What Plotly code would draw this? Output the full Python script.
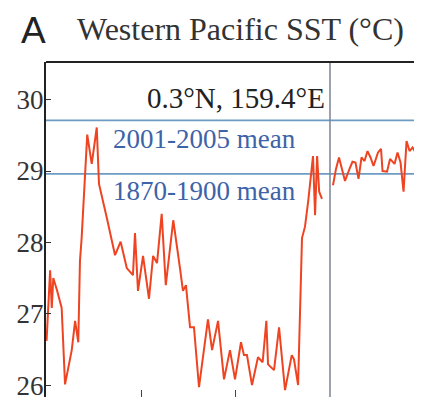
import plotly.graph_objects as go

# Paleo record (ODP 806, thousands of years before present)
paleo_kyr = [151.0, 149.1, 148.2, 147.4, 145.4, 142.9, 141.1, 137.5, 135.7, 134.0,
             133.1, 132.2, 129.2, 126.8, 124.1, 122.9, 118.6, 114.3, 111.3, 108.0,
             104.7, 103.6, 102.0, 99.3, 96.1, 93.9, 91.8, 89.3, 87.1, 83.1,
             79.5, 77.9, 76.3, 74.1, 72.0, 69.3, 64.5, 62.3, 59.1, 55.9,
             52.7, 50.0, 46.8, 45.2, 43.6, 40.9, 37.7, 35.2, 33.2, 32.3,
             29.1, 26.4, 23.2, 19.6, 18.4, 16.2, 14.1, 12.5, 10.8, 8.2,
             7.1, 6.0, 4.9, 3.4]
paleo_sst = [26.62, 27.61, 27.08, 27.50, 27.33, 27.08, 26.01, 26.49, 26.90, 26.60,
             27.74, 28.06, 29.51, 29.10, 29.61, 28.82, 28.33, 27.82, 28.01, 27.64,
             27.54, 28.13, 27.32, 27.81, 27.21, 27.81, 27.71, 28.40, 27.40, 28.31,
             27.64, 27.32, 27.40, 26.81, 26.81, 25.97, 26.92, 26.49, 26.90, 26.08,
             26.49, 26.08, 26.60, 26.42, 26.42, 26.00, 26.39, 26.32, 26.90, 26.29,
             26.21, 26.81, 25.93, 26.42, 26.36, 26.00, 28.06, 28.22, 28.57, 29.21,
             28.38, 29.21, 28.71, 28.61]

# Modern instrumental record (years)
modern_year = [1870, 1872, 1874, 1877, 1878, 1881, 1883, 1885, 1887, 1889,
               1891, 1893, 1895, 1897, 1900, 1902, 1903, 1906, 1908, 1911,
               1913, 1915, 1917, 1918, 1919, 1921, 1923, 1925, 1927, 1929]
modern_sst = [28.80, 29.03, 29.19, 28.93, 28.86, 29.03, 29.13, 29.12, 28.89, 29.19,
              29.14, 29.28, 29.19, 29.07, 29.26, 29.31, 29.00, 28.99, 29.17, 29.10,
              29.26, 29.12, 28.71, 29.07, 29.42, 29.28, 29.33, 29.26, 29.17, 29.21]

mean_2001_2005 = 29.71
mean_1870_1900 = 28.96
y_ticks = [26, 27, 28, 29, 30]
paleo_ticks = [100, 50]
y_range = [25.833, 30.528]
paleo_range = [151.3, -0.9]
modern_range = [1868, 1929.3]
split = 0.7553

red = "#ee4422"
serif = "Liberation Serif, Times New Roman, serif"

fig = go.Figure()
fig.add_trace(go.Scatter(x=paleo_kyr, y=paleo_sst, mode="lines",
                         line=dict(color=red, width=2), xaxis="x", yaxis="y",
                         showlegend=False, hoverinfo="skip"))
fig.add_trace(go.Scatter(x=modern_year, y=modern_sst, mode="lines",
                         line=dict(color=red, width=2), xaxis="x2", yaxis="y2",
                         showlegend=False, hoverinfo="skip"))

for val in (mean_2001_2005, mean_1870_1900):
    fig.add_shape(type="line", xref="paper", yref="y", x0=0, x1=1, y0=val, y1=val,
                  line=dict(color="#6d9bc3", width=1.6), layer="below")
fig.add_shape(type="line", xref="paper", yref="paper", x0=split, x1=split, y0=0, y1=1,
              line=dict(color="#7c8594", width=1.5))
fig.add_shape(type="line", xref="paper", yref="paper", x0=0, x1=1, y0=1, y1=1,
              line=dict(color="#222222", width=2))

# page body adds an 8px offset; the figure is sized so the plot lands in place
fig.update_layout(
    width=414, height=392,
    margin=dict(l=38, r=0, t=54, b=0),
    paper_bgcolor="white", plot_bgcolor="white",
    showlegend=False,
    xaxis=dict(domain=[0, split], range=paleo_range, tickvals=paleo_ticks,
               ticks="inside", ticklen=7, tickwidth=1, tickcolor="#444",
               showticklabels=False, showline=False, showgrid=False,
               zeroline=False, anchor="y"),
    xaxis2=dict(domain=[split, 1], range=modern_range, ticks="",
                showticklabels=False, showline=False, showgrid=False,
                zeroline=False, anchor="y2"),
    yaxis=dict(range=y_range, tickvals=y_ticks, ticks="inside", ticklen=5,
               tickcolor="#333", showline=True, linewidth=2, linecolor="#222",
               showgrid=False, zeroline=False, anchor="x",
               ticklabeloverflow="allow", ticklabelstandoff=-5,
               tickfont=dict(family=serif, size=27, color="#333")),
    yaxis2=dict(range=y_range, tickvals=y_ticks, ticks="inside", ticklen=4,
                tickcolor="#888", side="right", showline=False,
                showticklabels=False, showgrid=False, zeroline=False, anchor="x2"),
)

def px_x(p):
    return (p - 46) / 376.0

def px_y(p):
    return (400 - p) / 338.0

fig.add_annotation(text="A", xref="paper", yref="paper", x=px_x(33.5), y=px_y(30),
                   showarrow=False, xanchor="center", yanchor="middle",
                   font=dict(family="Liberation Sans, Arial, sans-serif", size=37, color="#222"))
fig.add_annotation(text="Western Pacific SST (°C)", xref="paper", yref="paper",
                   x=px_x(240), y=px_y(29), showarrow=False, xanchor="center", yanchor="middle",
                   font=dict(family=serif, size=32, color="#333"))
fig.add_annotation(text="0.3°N, 159.4°E", xref="paper", yref="paper",
                   x=px_x(235.5), y=px_y(98), showarrow=False, xanchor="center", yanchor="middle",
                   font=dict(family=serif, size=29, color="#222"))
fig.add_annotation(text="2001-2005 mean", xref="paper", yref="paper",
                   x=px_x(204), y=px_y(140), showarrow=False, xanchor="center", yanchor="middle",
                   font=dict(family=serif, size=27, color="#3d63a8"))
fig.add_annotation(text="1870-1900 mean", xref="paper", yref="paper",
                   x=px_x(204), y=px_y(192.5), showarrow=False, xanchor="center", yanchor="middle",
                   font=dict(family=serif, size=27, color="#3d63a8"))

fig.write_html("out.html")
